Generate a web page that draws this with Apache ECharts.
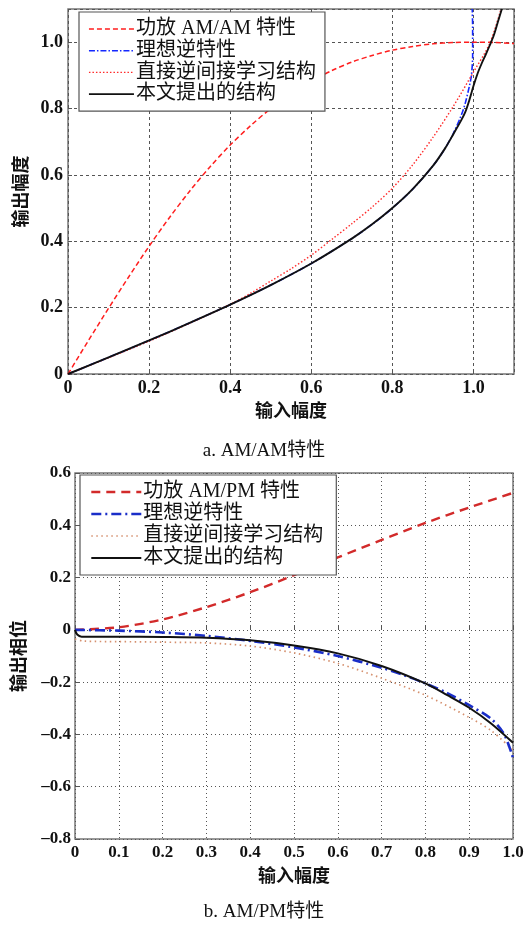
<!DOCTYPE html>
<html>
<head>
<meta charset="utf-8">
<script src="https://cdn.jsdelivr.net/npm/echarts@6/dist/echarts.min.js"></script>
<style>
html,body{margin:0;padding:0;background:#fff;}
#c{width:528px;height:925px;}
</style>
</head>
<body>
<div id="c"></div>
<script>
// ---------- Chart a: AM/AM ----------
const amNames = ['功放 AM/AM 特性', '理想逆特性', '直接逆间接学习结构', '本文提出的结构'];
const amPaX = [0,0.05,0.1,0.15,0.2,0.25,0.3,0.35,0.4,0.45,0.5,0.55,0.6,0.65,0.7,0.75,0.8,0.85,0.9,0.95,1.0,1.05,1.1];
const amPaY = [0,0.100,0.198,0.293,0.385,0.471,0.551,0.624,0.690,0.748,0.800,0.845,0.882,0.914,0.940,0.960,0.976,0.987,0.995,0.999,1.000,0.999,0.996];
const amIdealX = [0,0.1,0.2,0.3,0.4,0.5,0.6,0.7,0.75,0.8,0.85,0.9,0.93,0.95,0.97,0.98,0.99,0.995,0.998,0.998,0.997];
const amIdealY = [0,0.050,0.101,0.154,0.209,0.268,0.333,0.408,0.451,0.500,0.557,0.627,0.680,0.724,0.780,0.817,0.868,0.900,0.960,1.040,1.100];
const amDirectX = [0,0.1,0.2,0.3,0.4,0.45,0.5,0.55,0.6,0.65,0.7,0.75,0.8,0.85,0.9,0.95,1.0,1.04,1.068];
const amDirectY = [0,0.049,0.099,0.153,0.210,0.243,0.280,0.317,0.358,0.405,0.453,0.503,0.560,0.630,0.713,0.806,0.910,0.996,1.100];
const amPropX = [0,0.1,0.2,0.3,0.4,0.5,0.6,0.7,0.75,0.8,0.85,0.9,0.93,0.95,0.97,0.98,0.99,1.0,1.01,1.02,1.03,1.04,1.05,1.06,1.07];
const amPropY = [0,0.050,0.101,0.154,0.209,0.268,0.333,0.408,0.451,0.500,0.557,0.627,0.680,0.722,0.765,0.790,0.826,0.868,0.905,0.935,0.962,0.990,1.020,1.060,1.100];
const amXTicks = [0,0.2,0.4,0.6,0.8,1.0];
const amXLabels = ['0','0.2','0.4','0.6','0.8','1.0'];
const amYTicks = [0,0.2,0.4,0.6,0.8,1.0];
const amYLabels = ['0','0.2','0.4','0.6','0.8','1.0'];

// ---------- Chart b: AM/PM ----------
const pmNames = ['功放 AM/PM 特性', '理想逆特性', '直接逆间接学习结构', '本文提出的结构'];
const pmPaX = [0,0.1,0.2,0.3,0.4,0.5,0.6,0.7,0.8,0.9,1.0];
const pmPaY = [0,0.010,0.040,0.087,0.144,0.209,0.277,0.344,0.409,0.468,0.524];
const pmIdealX = [0,0.1,0.2,0.3,0.4,0.5,0.6,0.7,0.75,0.8,0.85,0.9,0.95,0.98,1.0];
const pmIdealY = [0,-0.003,-0.010,-0.023,-0.042,-0.067,-0.100,-0.145,-0.173,-0.205,-0.242,-0.288,-0.340,-0.400,-0.490];
const pmDirectX = [0,0.02,0.1,0.2,0.3,0.4,0.5,0.6,0.7,0.8,0.9,0.95,1.0];
const pmDirectY = [-0.035,-0.043,-0.045,-0.047,-0.050,-0.062,-0.088,-0.128,-0.185,-0.250,-0.335,-0.385,-0.460];
const pmPropX = [0,0.005,0.015,0.1,0.2,0.3,0.4,0.5,0.6,0.7,0.8,0.85,0.9,0.95,1.0];
const pmPropY = [0,-0.018,-0.026,-0.026,-0.027,-0.030,-0.040,-0.060,-0.090,-0.138,-0.205,-0.250,-0.298,-0.358,-0.432];
const pmXTicks = [0,0.1,0.2,0.3,0.4,0.5,0.6,0.7,0.8,0.9,1.0];
const pmXLabels = ['0','0.1','0.2','0.3','0.4','0.5','0.6','0.7','0.8','0.9','1.0'];
const pmYTicks = [-0.8,-0.6,-0.4,-0.2,0,0.2,0.4,0.6];
const pmYLabels = ['\u20130.8','\u20130.6','\u20130.4','\u20130.2','0','0.2','0.4','0.6'];

const captions = ['a. AM/AM特性', 'b. AM/PM特性'];

function zip(xs, ys){ return xs.map((x,i)=>[x, ys[i]]); }
function fmt(ticks, labels){
  return function(v){
    for (let i=0;i<ticks.length;i++){ if (Math.abs(v-ticks[i])<1e-6) return labels[i]; }
    return '';
  };
}

const serif = "'Liberation Serif', 'Noto Sans CJK SC', serif";
const labelStyle = {fontFamily: "'Liberation Serif', serif", fontWeight: 'bold', fontSize: 18, color: '#111'};
const nameStyle = {fontFamily: "'Noto Sans CJK SC', sans-serif", fontWeight: 'bold', fontSize: 18, color: '#111'};

const topStyles = [
  {color:'#ff1e1e', width:1.5, type:[5,3]},
  {color:'#1428ff', width:1.6, type:[6,2,1.5,2]},
  {color:'#ff2a2a', width:1.4, type:[1.5,2]},
  {color:'#111111', width:1.9, type:'solid'}
];
const botStyles = [
  {color:'#d22a2a', width:2.4, type:[9,6]},
  {color:'#1a2ec8', width:2.6, type:[10,4,2,4]},
  {color:'#d5906e', width:1.7, type:[1.5,3.5]},
  {color:'#111111', width:2.0, type:'solid'}
];
const topZ = [3, 2, 3, 4];
const botZ = [3, 3, 2, 4];
const topData = [zip(amPaX,amPaY), zip(amIdealX,amIdealY), zip(amDirectX,amDirectY), zip(amPropX,amPropY)];
const botData = [zip(pmPaX,pmPaY), zip(pmIdealX,pmIdealY), zip(pmDirectX,pmDirectY), zip(pmPropX,pmPropY)];

const series = [];
amNames.forEach((n,i)=>series.push({
  type:'line', name:n, xAxisIndex:0, yAxisIndex:0, data:topData[i], symbol:'none', smooth:0.3,
  lineStyle:topStyles[i], z: topZ[i]
}));
pmNames.forEach((n,i)=>series.push({
  type:'line', name:n+'\u200b', xAxisIndex:1, yAxisIndex:1, data:botData[i], symbol:'none', smooth:0.3,
  lineStyle:botStyles[i], z: botZ[i]
}));

function legendItems(names, styles, suffix){
  return names.map((n,i)=>({name:n+suffix, lineStyle:Object.assign({}, styles[i]), itemStyle:{opacity:0}}));
}

const gridLineTop = {show:true, lineStyle:{color:'#555', width:1, type:[3,3]}};
const gridLineBot = {show:true, lineStyle:{color:'#555', width:1, type:[1,3]}};

const option = {
  animation:false,
  backgroundColor:'#fff',
  grid:[
    {left:68, top:9, width:446, height:365, show:true, borderColor:'#777', borderWidth:1.5, backgroundColor:'transparent'},
    {left:75, top:473, width:438, height:366, show:true, borderColor:'#777', borderWidth:1.5, backgroundColor:'transparent'}
  ],
  xAxis:[
    {type:'value', gridIndex:0, min:0, max:1.1, interval:0.2,
     axisLine:{show:false}, axisTick:{show:true, inside:true, length:4, lineStyle:{color:'#555'}},
     axisLabel:{margin:5, showMaxLabel:false, formatter:fmt(amXTicks, amXLabels), ...labelStyle},
     splitLine:gridLineTop,
     name:'输入幅度', nameLocation:'middle', nameGap:27, nameTextStyle:nameStyle},
    {type:'value', gridIndex:1, min:0, max:1.0, interval:0.1,
     axisLine:{show:false}, axisTick:{show:true, inside:true, length:4, lineStyle:{color:'#555'}},
     axisLabel:{margin:5, formatter:fmt(pmXTicks, pmXLabels), ...labelStyle, fontSize:17},
     splitLine:gridLineBot,
     name:'输入幅度', nameLocation:'middle', nameGap:27, nameTextStyle:nameStyle}
  ],
  yAxis:[
    {type:'value', gridIndex:0, min:0, max:1.1, interval:0.2,
     axisLine:{show:false}, axisTick:{show:true, inside:true, length:4, lineStyle:{color:'#555'}},
     axisLabel:{margin:5, showMaxLabel:false, formatter:fmt(amYTicks, amYLabels), ...labelStyle},
     splitLine:gridLineTop,
     name:'输出幅度', nameLocation:'middle', nameGap:37, nameTextStyle:nameStyle},
    {type:'value', gridIndex:1, min:-0.8, max:0.6, interval:0.2,
     axisLine:{show:false}, axisTick:{show:true, inside:true, length:4, lineStyle:{color:'#555'}},
     axisLabel:{margin:4, formatter:fmt(pmYTicks, pmYLabels), ...labelStyle, fontSize:17},
     splitLine:gridLineBot,
     name:'输出相位', nameLocation:'middle', nameGap:48, nameTextStyle:nameStyle}
  ],
  legend:[
    {left:79, top:12, orient:'vertical', itemWidth:45, itemHeight:19, itemGap:1.7,
     padding:[7,9,7,9], backgroundColor:'#fff', borderColor:'#555', borderWidth:1.2,
     textStyle:{fontFamily:serif, fontSize:20, color:'#111', padding:[0,0,0,-3]},
     data:legendItems(amNames, topStyles, ''), selectedMode:false},
    {left:80, top:475, orient:'vertical', itemWidth:50, itemHeight:19, itemGap:2,
     padding:[7,13,7,10], backgroundColor:'#fff', borderColor:'#555', borderWidth:1.2,
     textStyle:{fontFamily:serif, fontSize:20, color:'#111', padding:[0,0,0,-3]},
     data:legendItems(pmNames, botStyles, '\u200b'), selectedMode:false,
     formatter:function(n){ return n.replace('\u200b',''); }}
  ],
  graphic:[
    {type:'text', left:'center', top:442, style:{text:captions[0], font:"19px 'Liberation Serif', 'Noto Sans CJK SC', serif", fill:'#111', x:-6}},
    {type:'text', left:'center', top:903, style:{text:captions[1], font:"19px 'Liberation Serif', 'Noto Sans CJK SC', serif", fill:'#111', x:-10}}
  ],
  series:series
};
const chart = echarts.init(document.getElementById('c'), null, {renderer:'canvas'});
chart.setOption(option);
</script>
</body>
</html>
